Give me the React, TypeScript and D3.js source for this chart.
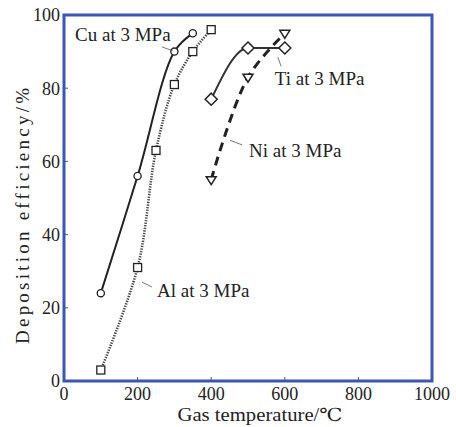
import React from "react";
import * as d3 from "d3";

// series (gas temperature in °C, deposition efficiency in %)
const cuTemp = [100, 200, 300, 350];
const cuEff = [24, 56, 90, 95];
const alTemp = [100, 200, 250, 300, 350, 400];
const alEff = [3, 31, 63, 81, 90, 96];
const tiTemp = [400, 500, 600];
const tiEff = [77, 91, 91];
const niTemp = [400, 500, 600];
const niEff = [55, 83, 95];

const xTicks = [0, 200, 400, 600, 800, 1000];
const yTicks = [0, 20, 40, 60, 80, 100];

// callouts: text anchor + leader line, in data units
const notes = [
  { text: "Cu at 3 MPa", tx: 30, ty: 92.9, x1: 266, y1: 91.3, x2: 296, y2: 90.2 },
  { text: "Ti at 3 MPa", tx: 573, ty: 80.9, x1: 581, y1: 88.5, x2: 590, y2: 86 },
  { text: "Ni at 3 MPa", tx: 503, ty: 61.2, x1: 451, y1: 65.8, x2: 484, y2: 64.5 },
  { text: "Al at 3 MPa", tx: 253, ty: 23, x1: 212, y1: 27, x2: 239, y2: 25.7 },
];

const W = 456, H = 427;
const m = { left: 64, right: 24, top: 15, bottom: 46 };
const font = "Liberation Serif, DejaVu Serif, Times New Roman, serif";
const blue = "#3c56b4";

export default function App() {
  const x = d3.scaleLinear().domain([0, 1000]).range([m.left, W - m.right]);
  const y = d3.scaleLinear().domain([0, 100]).range([H - m.bottom, m.top]);

  const pts = (t: number[], e: number[]) => t.map((v, i) => [v, e[i]] as [number, number]);
  const mk = (c: d3.CurveFactory) => d3.line<[number, number]>()
    .x(d => x(d[0]))
    .y(d => y(d[1]))
    .curve(c);
  const smooth = mk(d3.curveCatmullRom.alpha(0.5));
  const mono = mk(d3.curveMonotoneX);

  const cu = pts(cuTemp, cuEff);
  const al = pts(alTemp, alEff);
  const ti = pts(tiTemp, tiEff);
  const ni = pts(niTemp, niEff);

  const sq = 8, dm = 6, tr = 5;
  const txt = { fontFamily: font, fill: "#222" };

  return (
    <svg width={W} height={H} style={{ position: "absolute", left: 0, top: 0, background: "#fff" }}>
      {/* frame */}
      <rect x={x(0)} y={y(100)} width={x(1000) - x(0)} height={y(0) - y(100)}
        fill="none" stroke={blue} strokeWidth={3} />
      {yTicks.map(t => (
        <g key={"y" + t}>
          <line x1={x(0)} x2={x(0) + 4} y1={y(t)} y2={y(t)} stroke={blue} strokeWidth={1} />
          <text x={x(0) - 4} y={y(t)} dy="0.35em" textAnchor="end" fontSize={18} style={txt}>{t}</text>
        </g>
      ))}
      {xTicks.map(t => (
        <g key={"x" + t}>
          <line x1={x(t)} x2={x(t)} y1={y(0)} y2={y(0) - 4} stroke={blue} strokeWidth={1} />
          <text x={x(t)} y={y(0) + 19} textAnchor="middle" fontSize={18} style={txt}>{t}</text>
        </g>
      ))}
      <text x={260} y={421} textAnchor="middle" fontSize={18} style={txt}
        textLength={165} lengthAdjust="spacingAndGlyphs">Gas temperature/℃</text>
      <text transform={`translate(29,216) rotate(-90)`} textAnchor="middle" fontSize={19} style={txt}
        textLength={256} lengthAdjust="spacing">Deposition efficiency/%</text>

      {/* curves */}
      <path d={smooth(al) || ""} fill="none" stroke="#444" strokeWidth={2.6} strokeDasharray="1.3 1.3" />
      <path d={smooth(cu) || ""} fill="none" stroke="#222" strokeWidth={2} />
      <path d={mono(ti) || ""} fill="none" stroke="#333" strokeWidth={2} />
      <path d={smooth(ni) || ""} fill="none" stroke="#222" strokeWidth={3} strokeDasharray="9 6" />

      {/* markers */}
      {cu.map((d, i) => (
        <circle key={"c" + i} cx={x(d[0])} cy={y(d[1])} r={3.6} fill="#fff" stroke="#222" strokeWidth={1.3} />
      ))}
      {al.map((d, i) => (
        <rect key={"a" + i} x={x(d[0]) - sq / 2} y={y(d[1]) - sq / 2} width={sq} height={sq}
          fill="#fff" stroke="#222" strokeWidth={1.3} />
      ))}
      {ti.map((d, i) => (
        <path key={"t" + i}
          d={`M${x(d[0])},${y(d[1]) - dm}L${x(d[0]) + dm},${y(d[1])}L${x(d[0])},${y(d[1]) + dm}L${x(d[0]) - dm},${y(d[1])}Z`}
          fill="#fff" stroke="#222" strokeWidth={1.5} />
      ))}
      {ni.map((d, i) => (
        <path key={"n" + i}
          d={`M${x(d[0]) - tr},${y(d[1]) - tr * 0.6}L${x(d[0]) + tr},${y(d[1]) - tr * 0.6}L${x(d[0])},${y(d[1]) + tr}Z`}
          fill="#fff" stroke="#222" strokeWidth={1.5} />
      ))}

      {/* callouts */}
      {notes.map(n => (
        <g key={n.text}>
          <line x1={x(n.x1)} y1={y(n.y1)} x2={x(n.x2)} y2={y(n.y2)} stroke="#555" strokeWidth={0.8} />
          <text x={x(n.tx)} y={y(n.ty)} fontSize={19} style={txt}>{n.text}</text>
        </g>
      ))}
    </svg>
  );
}
